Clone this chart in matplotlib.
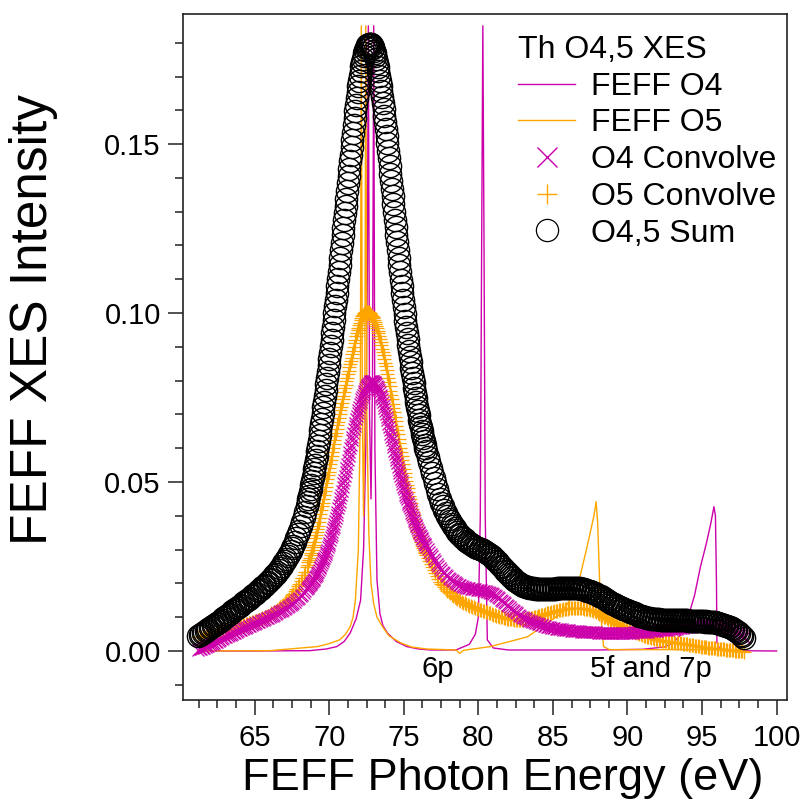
import numpy as np
import matplotlib
matplotlib.use('Agg')
from matplotlib import pyplot as plt
from matplotlib.ticker import MultipleLocator, FormatStrFormatter
from matplotlib.lines import Line2D

plt.rcParams['font.family'] = ['Liberation Sans', 'DejaVu Sans']

# FEFF stick-like spectra (photon energy in eV, intensity)
feff_o4_x = [61.3, 65.0, 68.7, 69.8, 70.5, 71.0, 71.4, 71.8, 72.1, 72.3,
             72.45, 72.55, 72.62, 72.7, 72.8, 72.9, 72.98, 73.06, 73.2, 73.4,
             73.6, 73.9, 74.5, 75.2, 76.0, 76.8, 78.5, 79.4, 79.8, 80.0,
             80.13, 80.22, 80.3, 80.38, 80.46, 80.6, 81.0, 82.0, 88.0, 91.0,
             92.5, 93.1, 93.6, 94.0, 94.5, 94.9, 95.3, 95.6, 95.8, 95.9,
             95.97, 96.0, 96.2, 97.0, 100.0]
feff_o4_y = [0.0, 0.0, 0.0001, 0.0006, 0.0013, 0.0028, 0.0053, 0.0095, 0.0150, 0.0300,
             0.0600, 0.1100, 0.185, 0.0700, 0.0450, 0.0800, 0.185, 0.0600, 0.0210, 0.0110,
             0.0075, 0.0053, 0.0028, 0.0013, 0.0006, 0.0003, 0.0003, 0.0020, 0.0050, 0.0100,
             0.0400, 0.1200, 0.185, 0.1200, 0.0400, 0.0033, 0.0009, 0.0003, 0.0003, 0.0005,
             0.0012, 0.0025, 0.0050, 0.0090, 0.0165, 0.0250, 0.0320, 0.0380, 0.0427, 0.0400,
             0.0200, 0.0025, 0.0005, 0.0001, 0.0]

feff_o5_x = [61.3, 66.0, 69.2, 70.0, 70.7, 71.1, 71.4, 71.6, 71.75, 71.95,
             72.08, 72.15, 72.22, 72.3, 72.38, 72.45, 72.52, 72.65, 72.8, 72.98,
             73.2, 73.6, 74.0, 74.8, 75.5, 76.5, 78.5, 78.75, 79.0, 80.8,
             83.3, 85.5, 86.6, 87.3, 87.75, 87.9, 88.0, 88.1, 88.2, 88.4,
             88.8, 97.7]
feff_o5_y = [0.0, 0.0001, 0.0013, 0.0022, 0.0033, 0.0050, 0.0072, 0.0100, 0.0150, 0.0300,
             0.0700, 0.185, 0.0700, 0.0400, 0.0700, 0.185, 0.0700, 0.0350, 0.0200, 0.0140,
             0.0100, 0.0070, 0.0045, 0.0024, 0.0012, 0.0006, 0.0003, -0.0007, 0.0002, 0.0013,
             0.0042, 0.0110, 0.0180, 0.0310, 0.0400, 0.0442, 0.0380, 0.0250, 0.0110, 0.0013,
             0.0004, 0.0004]

# convolved spectra
# low side: 0.1 eV steps from 61.2 eV
o4_conv_low = [
    .0003, .0005, .0007, .0008, .0010, .0012, .0014, .0016, .0018, .0020,
    .0022, .0024, .0026, .0028, .0031, .0033, .0035, .0037, .0040, .0042,
    .0044, .0046, .0048, .0050, .0052, .0054, .0057, .0059, .0061, .0063,
    .0065, .0067, .0069, .0071, .0073, .0075, .0077, .0079, .0081, .0083,
    .0085, .0087, .0089, .0091, .0093, .0095, .0097, .0099, .0101, .0103,
    .0105, .0108, .0110, .0112, .0114, .0117, .0119, .0122, .0124, .0127,
    .0130, .0133, .0136, .0139, .0142, .0146, .0150, .0154, .0158, .0162,
    .0167, .0172, .0177]
o5_conv_low = [
    .0040, .0041, .0042, .0044, .0045, .0046, .0047, .0048, .0049, .0050,
    .0051, .0053, .0054, .0055, .0056, .0057, .0058, .0060, .0061, .0062,
    .0063, .0064, .0065, .0067, .0068, .0069, .0070, .0072, .0073, .0074,
    .0076, .0077, .0079, .0080, .0082, .0083, .0085, .0086, .0088, .0090,
    .0092, .0093, .0095, .0097, .0099, .0101, .0103, .0105, .0108, .0111,
    .0113, .0116, .0119, .0122, .0126, .0129, .0133, .0137, .0141, .0145,
    .0150, .0155, .0160, .0165, .0170, .0177, .0184, .0191, .0198, .0207,
    .0216, .0225, .0235]

# main peak: 0.05 eV steps from 68.5 eV (one row = 0.5 eV)
o4_conv_peak = [
    .0182, .0185, .0188, .0191, .0194, .0197, .0200, .0204, .0207, .0211,  # 68.5
    .0214, .0218, .0222, .0226, .0231, .0235, .0240, .0245, .0250, .0255,  # 69.0
    .0260, .0265, .0271, .0276, .0282, .0288, .0294, .0300, .0307, .0314,  # 69.5
    .0321, .0328, .0336, .0344, .0352, .0360, .0368, .0376, .0385, .0394,  # 70.0
    .0403, .0412, .0422, .0432, .0442, .0452, .0463, .0474, .0485, .0496,  # 70.5
    .0507, .0518, .0530, .0541, .0553, .0565, .0577, .0588, .0600, .0611,  # 71.0
    .0623, .0634, .0645, .0656, .0666, .0676, .0686, .0696, .0705, .0714,  # 71.5
    .0722, .0730, .0738, .0745, .0752, .0758, .0764, .0770, .0775, .0780,  # 72.0
    .0784, .0788, .0791, .0794, .0797, .0799, .0800, .0800, .0800, .0799,  # 72.5
    .0797, .0795, .0792, .0789, .0785, .0781, .0776, .0771, .0765, .0759,  # 73.0
    .0752, .0745, .0737, .0729, .0720, .0711, .0702, .0693, .0683, .0673,  # 73.5
    .0663, .0653, .0643, .0633, .0623, .0613, .0603, .0593, .0583, .0574,  # 74.0
    .0564, .0555, .0545, .0536, .0527, .0519, .0510, .0502, .0494, .0486,  # 74.5
    .0478, .0471, .0463, .0456, .0449, .0442, .0435, .0429, .0422, .0416,  # 75.0
    .0409, .0403, .0397, .0391, .0385, .0380, .0374, .0369, .0363, .0358,  # 75.5
    .0353, .0348, .0343, .0339, .0334, .0330, .0325, .0321, .0317, .0313]  # 76.0
o5_conv_peak = [
    .0248, .0255, .0262, .0269, .0276, .0283, .0290, .0298, .0307, .0315,  # 68.5
    .0324, .0333, .0342, .0351, .0360, .0371, .0382, .0393, .0405, .0416,  # 69.0
    .0428, .0439, .0451, .0462, .0474, .0485, .0497, .0508, .0520, .0531,  # 69.5
    .0543, .0554, .0566, .0577, .0589, .0600, .0612, .0623, .0635, .0646,  # 70.0
    .0657, .0668, .0679, .0690, .0701, .0712, .0723, .0734, .0745, .0756,  # 70.5
    .0767, .0777, .0788, .0798, .0809, .0819, .0829, .0839, .0849, .0858,  # 71.0
    .0868, .0878, .0889, .0900, .0911, .0921, .0931, .0940, .0949, .0957,  # 71.5
    .0965, .0972, .0979, .0985, .0990, .0994, .0998, .1000, .1002, .1003,  # 72.0
    .1004, .1004, .1003, .1002, .1000, .0998, .0995, .0992, .0988, .0984,  # 72.5
    .0979, .0974, .0968, .0962, .0955, .0948, .0940, .0932, .0923, .0914,  # 73.0
    .0905, .0895, .0885, .0875, .0864, .0853, .0842, .0831, .0819, .0807,  # 73.5
    .0795, .0783, .0770, .0758, .0745, .0732, .0719, .0706, .0693, .0680,  # 74.0
    .0667, .0654, .0641, .0628, .0615, .0602, .0589, .0577, .0564, .0552,  # 74.5
    .0539, .0527, .0515, .0504, .0492, .0481, .0470, .0460, .0449, .0439,  # 75.0
    .0429, .0420, .0410, .0401, .0392, .0384, .0375, .0367, .0359, .0352,  # 75.5
    .0344, .0337, .0330, .0324, .0317, .0311, .0305, .0300, .0294, .0289]  # 76.0

# high side: 0.1 eV steps from 76.5 eV
o4_conv_high = [
    .0309, .0301, .0294, .0287, .0280, .0272, .0265,
    .0258, .0251, .0245, .0240, .0235, .0230, .0225, .0221, .0217, .0213,  # 77.2
    .0209, .0206, .0203, .0200, .0198, .0196, .0194, .0192, .0190, .0189,  # 78.2
    .0187, .0186, .0185, .0184, .0183, .0183, .0182, .0181, .0181, .0180,  # 79.2
    .0180, .0179, .0178, .0177, .0176, .0175, .0173, .0171, .0168, .0165,  # 80.2
    .0162, .0159, .0156, .0152, .0149, .0145, .0141, .0137, .0133, .0129,  # 81.2
    .0125, .0121, .0118, .0114, .0111, .0108, .0105, .0102, .0099, .0097,  # 82.2
    .0094, .0092, .0090, .0088, .0086, .0085, .0083, .0082, .0080, .0079,  # 83.2
    .0077, .0076, .0075, .0074, .0072, .0071, .0070, .0069, .0068, .0067,  # 84.2
    .0066, .0066, .0065, .0064, .0064, .0063, .0062, .0062, .0061, .0061,  # 85.2
    .0060, .0060, .0059, .0059, .0058, .0058, .0058, .0057, .0057, .0057,  # 86.2
    .0056, .0056, .0056, .0056, .0055, .0055, .0055, .0055, .0054, .0054,  # 87.2
    .0054, .0054, .0054, .0053, .0053, .0053, .0053, .0053, .0053, .0053,  # 88.2
    .0053, .0053, .0053, .0053, .0053, .0053, .0053, .0053, .0054, .0054,  # 89.2
    .0054, .0054, .0054, .0055, .0055, .0055, .0055, .0056, .0056, .0056,  # 90.2
    .0057, .0057, .0057, .0058, .0058, .0059, .0059, .0060, .0060, .0061,  # 91.2
    .0061, .0061, .0062, .0062, .0063, .0063, .0064, .0064, .0065, .0065,  # 92.2
    .0066, .0066, .0067, .0068, .0068, .0069, .0070, .0070, .0071, .0071,  # 93.2
    .0072, .0072, .0073, .0073, .0074, .0074, .0075, .0075, .0076, .0076,  # 94.2
    .0076, .0077, .0077, .0077, .0077, .0077, .0077, .0077, .0076, .0076,  # 95.2
    .0075, .0074, .0073, .0072, .0071, .0070, .0068, .0067, .0065, .0063,  # 96.2
    .0061, .0059, .0056, .0053, .0049, .0045, .0040]                       # 97.2
o5_conv_high = [
    .0284, .0274, .0265, .0256, .0248, .0240, .0231,
    .0222, .0213, .0205, .0199, .0194, .0188, .0183, .0179, .0175, .0171,  # 77.2
    .0167, .0164, .0160, .0157, .0154, .0151, .0148, .0145, .0143, .0141,  # 78.2
    .0138, .0136, .0134, .0132, .0130, .0129, .0127, .0125, .0124, .0122,  # 79.2
    .0121, .0119, .0118, .0116, .0115, .0113, .0111, .0110, .0108, .0107,  # 80.2
    .0105, .0104, .0102, .0101, .0100, .0098, .0097, .0096, .0095, .0095,  # 81.2
    .0094, .0094, .0093, .0093, .0093, .0093, .0093, .0093, .0094, .0094,  # 82.2
    .0095, .0096, .0097, .0098, .0099, .0100, .0101, .0102, .0103, .0105,  # 83.2
    .0106, .0107, .0108, .0110, .0111, .0112, .0113, .0114, .0116, .0117,  # 84.2
    .0118, .0119, .0120, .0121, .0122, .0123, .0124, .0125, .0125, .0126,  # 85.2
    .0126, .0127, .0127, .0127, .0127, .0127, .0127, .0126, .0126, .0125,  # 86.2
    .0124, .0123, .0123, .0121, .0120, .0118, .0117, .0115, .0113, .0110,  # 87.2
    .0108, .0105, .0102, .0100, .0097, .0094, .0092, .0089, .0087, .0085,  # 88.2
    .0083, .0080, .0078, .0076, .0074, .0072, .0070, .0068, .0066, .0064,  # 89.2
    .0062, .0060, .0058, .0056, .0054, .0052, .0050, .0049, .0047, .0045,  # 90.2
    .0044, .0042, .0041, .0040, .0038, .0037, .0036, .0035, .0034, .0033,  # 91.2
    .0032, .0031, .0030, .0030, .0029, .0028, .0028, .0027, .0026, .0026,  # 92.2
    .0025, .0025, .0024, .0024, .0023, .0022, .0021, .0021, .0020, .0019,  # 93.2
    .0018, .0017, .0017, .0016, .0015, .0014, .0014, .0013, .0012, .0012,  # 94.2
    .0011, .0011, .0010, .0010, .0009, .0009, .0008, .0008, .0007, .0007,  # 95.2
    .0006, .0006, .0005, .0005, .0004, .0004, .0003, .0003, .0002, .0002,  # 96.2
    .0001, .0001, .0000, .0000, -.0001, -.0001, -.0002]                     # 97.2

conv_x = np.round(np.concatenate([61.2 + 0.1 * np.arange(len(o4_conv_low)),
                                  68.5 + 0.05 * np.arange(len(o4_conv_peak)),
                                  76.5 + 0.1 * np.arange(len(o4_conv_high))]), 2)
o4_conv = np.array(o4_conv_low + o4_conv_peak + o4_conv_high)
o5_conv = np.array(o5_conv_low + o5_conv_peak + o5_conv_high)
o45_sum = o4_conv + o5_conv

magenta = '#cc00aa'
orange = '#ffa500'

fig = plt.figure(figsize=(8, 8.07), dpi=100)
ax = fig.add_axes([183/800, 107/807, 604/800, 686/807])

ax.plot(feff_o4_x, feff_o4_y, color=magenta, lw=1.0, zorder=2)
ax.plot(feff_o5_x, feff_o5_y, color=orange, lw=1.0, zorder=2)
ax.plot(conv_x, o5_conv, ls='none', marker='+', ms=9.5, mew=0.9, color=orange, zorder=3)
ax.plot(conv_x, o4_conv, ls='none', marker='x', ms=8.5, mew=0.9, color=magenta, zorder=4)
ax.plot(conv_x, o45_sum, ls='none', marker='o', ms=16, mew=1.0, mfc='none', mec='black', zorder=5)

ax.text(77.25, -0.0052, '6p', ha='center', va='center', fontsize=21)
ax.text(91.6, -0.0052, '5f and 7p', ha='center', va='center', fontsize=21)

ax.set_xlim(60.19, 100.7)
ax.set_ylim(-0.0145, 0.1885)
ax.xaxis.set_major_locator(MultipleLocator(5))
ax.xaxis.set_minor_locator(MultipleLocator(1.25))
ax.yaxis.set_major_locator(MultipleLocator(0.05))
ax.yaxis.set_minor_locator(MultipleLocator(0.01))
ax.yaxis.set_major_formatter(FormatStrFormatter('%.2f'))
ax.tick_params(which='major', direction='out', length=11, width=1.1, labelsize=21, color='#222222')
ax.tick_params(which='minor', direction='out', length=6, width=1.1, color='#222222')
ax.tick_params(axis='x', which='major', pad=6)
ax.tick_params(axis='y', which='major', pad=5)
for s in ax.spines.values():
    s.set_linewidth(1.2)
    s.set_color('#222222')

ax.set_xlabel('FEFF Photon Energy (eV)', fontsize=32.5)
ax.set_ylabel('FEFF XES Intensity', fontsize=37)
ax.xaxis.set_label_coords(0.53, -0.084)
ax.yaxis.set_label_coords(-0.207, 0.554)

handles = [Line2D([], [], color=magenta, lw=1.0),
           Line2D([], [], color=orange, lw=1.0),
           Line2D([], [], ls='none', marker='x', ms=14, mew=1.0, color=magenta),
           Line2D([], [], ls='none', marker='+', ms=15, mew=1.0, color=orange),
           Line2D([], [], ls='none', marker='o', ms=16, mew=0.9, mfc='none', mec='black')]
labels = ['FEFF O4', 'FEFF O5', 'O4 Convolve', 'O5 Convolve', 'O4,5 Sum']
leg = ax.legend(handles, labels, title='Th O4,5 XES', loc='upper left',
                bbox_to_anchor=(518/800, 1 - 35/807), bbox_transform=fig.transFigure,
                frameon=False, fontsize=23, title_fontsize=23, handlelength=1.79,
                handletextpad=0.5, labelspacing=0.21, borderpad=0, borderaxespad=0,
                alignment='left')

fig.savefig('out.png', dpi=100)
